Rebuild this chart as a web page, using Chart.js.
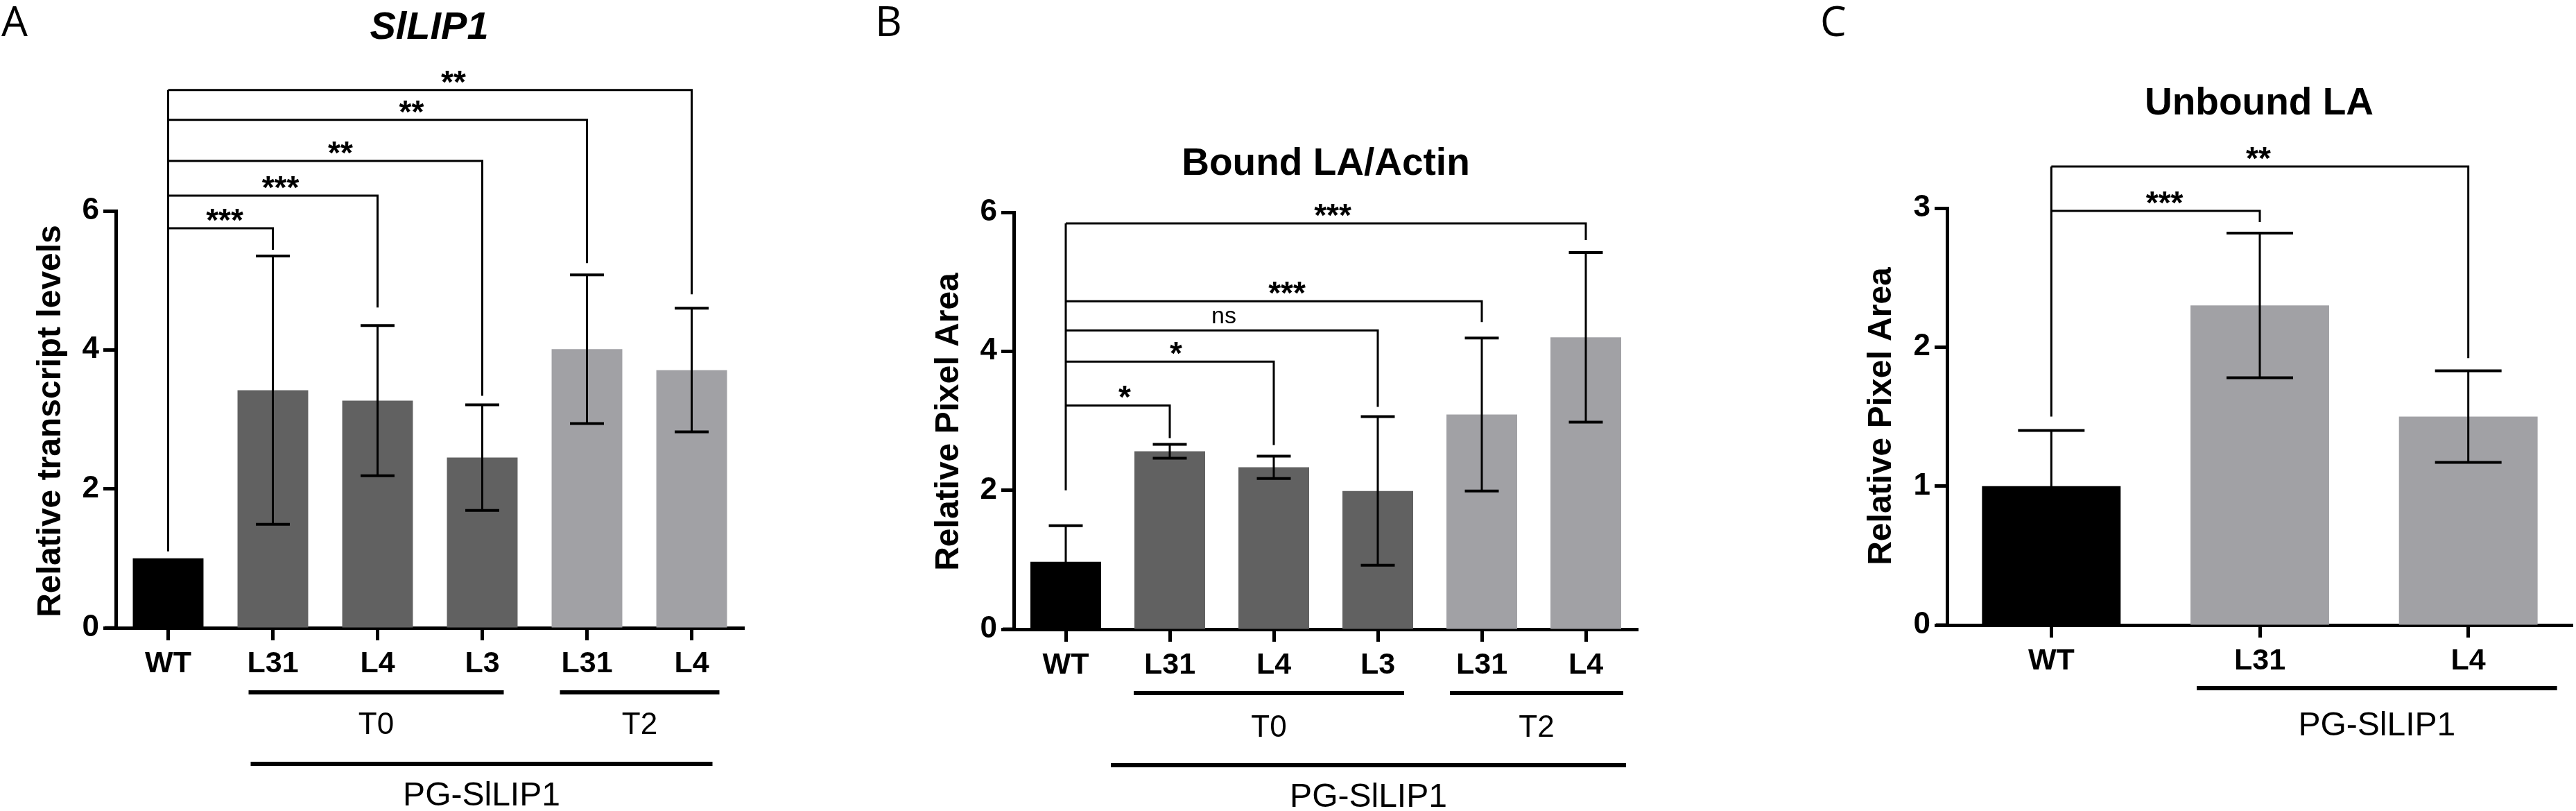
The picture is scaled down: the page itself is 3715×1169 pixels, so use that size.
<!DOCTYPE html>
<html lang="en">
<head>
<meta charset="UTF-8">
<title>SlLIP1 transcript levels and LA binding</title>
<script src="https://cdn.jsdelivr.net/npm/chart.js"></script>
<style>
  body { margin: 0; background: #fff; width: 3715px; height: 1169px; position: relative; overflow: hidden; }
  canvas { position: absolute; top: 0; }
</style>
</head>
<body>
<canvas id="chartA" width="1240" height="1169" style="left:0px"></canvas>
<canvas id="chartB" width="1300" height="1169" style="left:1240px"></canvas>
<canvas id="chartC" width="1175" height="1169" style="left:2540px"></canvas>
<script>
// ---- data ----
const lines6 = ['WT', 'L31', 'L4', 'L3', 'L31', 'L4'];
const lines3 = ['WT', 'L31', 'L4'];

// A: SlLIP1 transcript levels (mean, SD)
const meansA = [1.00, 3.42, 3.27, 2.45, 4.01, 3.71];
const errA   = [0,    1.93, 1.08, 0.76, 1.07, 0.89];
// B: Bound LA/Actin
const meansB = [0.97, 2.56, 2.33, 1.99, 3.09, 4.20];
const errB   = [0.52, 0.10, 0.16, 1.07, 1.10, 1.22];
// C: Unbound LA
const meansC = [1.00, 2.30, 1.50];
const errC   = [0.40, 0.52, 0.33];

// significance vs WT: target bar, bracket height, drop end, label
const sigA = [
  { to: 1, y: 5.75, end: 5.44, text: '***' },
  { to: 2, y: 6.22, end: 4.61, text: '***' },
  { to: 3, y: 6.72, end: 3.34, text: '**' },
  { to: 4, y: 7.31, end: 5.25, text: '**' },
  { to: 5, y: 7.74, end: 4.80, text: '**' }
];
const sigB = [
  { to: 1, y: 3.22, end: 2.75, text: '*' },
  { to: 2, y: 3.85, end: 2.65, text: '*' },
  { to: 3, y: 4.30, end: 3.20, text: 'ns' },
  { to: 4, y: 4.72, end: 4.42, text: '***' },
  { to: 5, y: 5.84, end: 5.60, text: '***' }
];
const sigC = [
  { to: 1, y: 2.98, end: 2.90, text: '***' },
  { to: 2, y: 3.30, end: 1.92, text: '**' }
];

const BLACK = '#000000', DARK = '#616161', LIGHT = '#a1a1a5';
const FONT = 'Liberation Sans';
Chart.defaults.font.family = FONT;

function drawText(ctx, text, x, y, font, align, base) {
  ctx.font = font;
  ctx.textAlign = align || 'center';
  ctx.textBaseline = base || 'middle';
  ctx.fillStyle = '#000';
  ctx.fillText(text, x, y);
}

function makePanel(id, p) {
  const annot = {
    id: 'annot_' + id,
    afterDraw(chart) {
      const ctx = chart.ctx, ys = chart.scales.y, area = chart.chartArea;
      const bars = chart.getDatasetMeta(0).data;
      ctx.save();
      ctx.strokeStyle = '#000';
      ctx.lineCap = 'butt';

      // x axis line runs a little past the y axis, as in the original
      ctx.fillStyle = '#000';
      ctx.fillRect(area.left - 16, area.bottom - 2.5, 16, 5);

      // error bars
      p.means.forEach((m, i) => {
        if (!p.err[i]) return;
        const x = bars[i].x, cap = bars[i].width * 0.48;
        const yt = ys.getPixelForValue(m + p.err[i]), yb = ys.getPixelForValue(m - p.err[i]);
        ctx.lineWidth = 3;
        ctx.beginPath(); ctx.moveTo(x, yt); ctx.lineTo(x, yb); ctx.stroke();
        ctx.lineWidth = 4;
        ctx.beginPath();
        ctx.moveTo(x - cap / 2, yt); ctx.lineTo(x + cap / 2, yt);
        ctx.moveTo(x - cap / 2, yb); ctx.lineTo(x + cap / 2, yb);
        ctx.stroke();
      });

      // significance brackets
      const x0 = bars[0].x;
      const topY = Math.max(...p.sig.map(s => s.y));
      ctx.lineWidth = 3;
      ctx.beginPath();
      ctx.moveTo(x0, ys.getPixelForValue(p.sigStart));
      ctx.lineTo(x0, ys.getPixelForValue(topY));
      ctx.stroke();
      p.sig.forEach((s, k) => {
        const x1 = bars[s.to].x, yy = ys.getPixelForValue(s.y);
        ctx.beginPath();
        ctx.moveTo(x0, yy); ctx.lineTo(x1, yy); ctx.lineTo(x1, ys.getPixelForValue(s.end));
        ctx.stroke();
        const tx = (x0 + x1) / 2 + (p.sigDx[k] || 0);
        if (s.text === 'ns') drawText(ctx, s.text, tx, yy - 10, '34px ' + FONT, 'center', 'alphabetic');
        else drawText(ctx, s.text, tx, yy + 4, 'bold 46px ' + FONT, 'center', 'alphabetic');
      });

      // group bars under the axis
      p.groups.forEach(g => {
        const xa = bars[g.from].x + g.l, xb = bars[g.to].x + g.r;
        ctx.fillStyle = '#000';
        ctx.fillRect(xa, g.y - 3, xb - xa, 6);
        drawText(ctx, g.text, (xa + xb) / 2, g.ty, g.font || '44px ' + FONT);
      });

      // panel letter, title, y title
      drawText(ctx, p.letter, p.letterX, 52, '60px "Open Sans"', 'left', 'alphabetic');
      drawText(ctx, p.title, p.titleX, p.titleY, p.titleFont);
      ctx.save();
      ctx.translate(p.yTitleX, p.yTitleY);
      ctx.rotate(-Math.PI / 2);
      drawText(ctx, p.yTitle, 0, 0, 'bold 48px ' + FONT);
      ctx.restore();
      ctx.restore();
    }
  };

  const canvas = document.getElementById(id);
  return new Chart(canvas.getContext('2d'), {
    type: 'bar',
    data: {
      labels: p.labels,
      datasets: [{
        data: p.means,
        backgroundColor: p.colors,
        borderWidth: 0,
        barPercentage: p.barPct,
        categoryPercentage: 1
      }]
    },
    options: {
      responsive: false,
      devicePixelRatio: 1,
      animation: false,
      events: [],
      layout: { padding: { left: 0, right: canvas.width - p.right, top: p.top, bottom: 0 } },
      plugins: { legend: { display: false }, tooltip: { enabled: false }, title: { display: false } },
      scales: {
        x: {
          grid: { drawOnChartArea: false, drawTicks: true, tickLength: 18, tickWidth: 5, tickColor: '#000', offset: false },
          border: { display: true, width: 5, color: '#000' },
          ticks: { color: '#000', font: { size: 43, weight: 'bold' }, padding: 8, maxRotation: 0 },
          afterFit(s) { s.height = canvas.height - p.bottom; }
        },
        y: {
          min: 0,
          max: p.yMax,
          grid: { drawOnChartArea: false, drawTicks: true, tickLength: 18, tickWidth: 5, tickColor: '#000' },
          border: { display: true, width: 5, color: '#000' },
          ticks: { stepSize: p.yStep, color: '#000', font: { size: 44, weight: 'bold' }, padding: 6 },
          afterFit(s) { s.width = p.left; }
        }
      }
    },
    plugins: [annot]
  });
}

makePanel('chartA', {
  labels: lines6, means: meansA, err: errA, sig: sigA, sigStart: 1.1,
  sigDx: [6, 11, 22, 49, 34],
  colors: [BLACK, DARK, DARK, DARK, LIGHT, LIGHT], barPct: 0.675,
  left: 167, right: 1073, top: 304, bottom: 905, yMax: 6, yStep: 2,
  groups: [
    { from: 1, to: 3, l: -35, r: 31, y: 998, text: 'T0', ty: 1046 },
    { from: 4, to: 5, l: -39, r: 40, y: 998, text: 'T2', ty: 1046 },
    { from: 1, to: 5, l: -32, r: 30, y: 1101, text: 'PG-SlLIP1', ty: 1148, font: '48px ' + FONT }
  ],
  letter: 'A', letterX: 2,
  title: 'SlLIP1', titleX: 619, titleY: 41, titleFont: 'italic bold 56px ' + FONT,
  yTitle: 'Relative transcript levels', yTitleX: 74, yTitleY: 607
});

makePanel('chartB', {
  labels: lines6, means: meansB, err: errB, sig: sigB, sigStart: 2.0,
  sigDx: [10, 9, 3, 19, 10],
  colors: [BLACK, DARK, DARK, DARK, LIGHT, LIGHT], barPct: 0.68,
  left: 222, right: 1122, top: 306, bottom: 907, yMax: 6, yStep: 2,
  groups: [
    { from: 1, to: 3, l: -52, r: 38, y: 999, text: 'T0', ty: 1050 },
    { from: 4, to: 5, l: -46, r: 54, y: 999, text: 'T2', ty: 1050 },
    { from: 1, to: 5, l: -85, r: 58, y: 1103, text: 'PG-SlLIP1', ty: 1150, font: '48px ' + FONT }
  ],
  letter: 'B', letterX: 22,
  title: 'Bound LA/Actin', titleX: 672, titleY: 237, titleFont: 'bold 55px ' + FONT,
  yTitle: 'Relative Pixel Area', yTitleX: 129, yTitleY: 608
});

makePanel('chartC', {
  labels: lines3, means: meansC, err: errC, sig: sigC, sigStart: 1.5,
  sigDx: [13, -2],
  colors: [BLACK, LIGHT, LIGHT], barPct: 0.665,
  left: 268, right: 1170, top: 300, bottom: 901, yMax: 3, yStep: 1,
  groups: [
    { from: 1, to: 2, l: -91, r: 128, y: 992, text: 'PG-SlLIP1', ty: 1047, font: '48px ' + FONT }
  ],
  letter: 'C', letterX: 85,
  title: 'Unbound LA', titleX: 718, titleY: 150, titleFont: 'bold 55px ' + FONT,
  yTitle: 'Relative Pixel Area', yTitleX: 174, yTitleY: 600
});
</script>
</body>
</html>
